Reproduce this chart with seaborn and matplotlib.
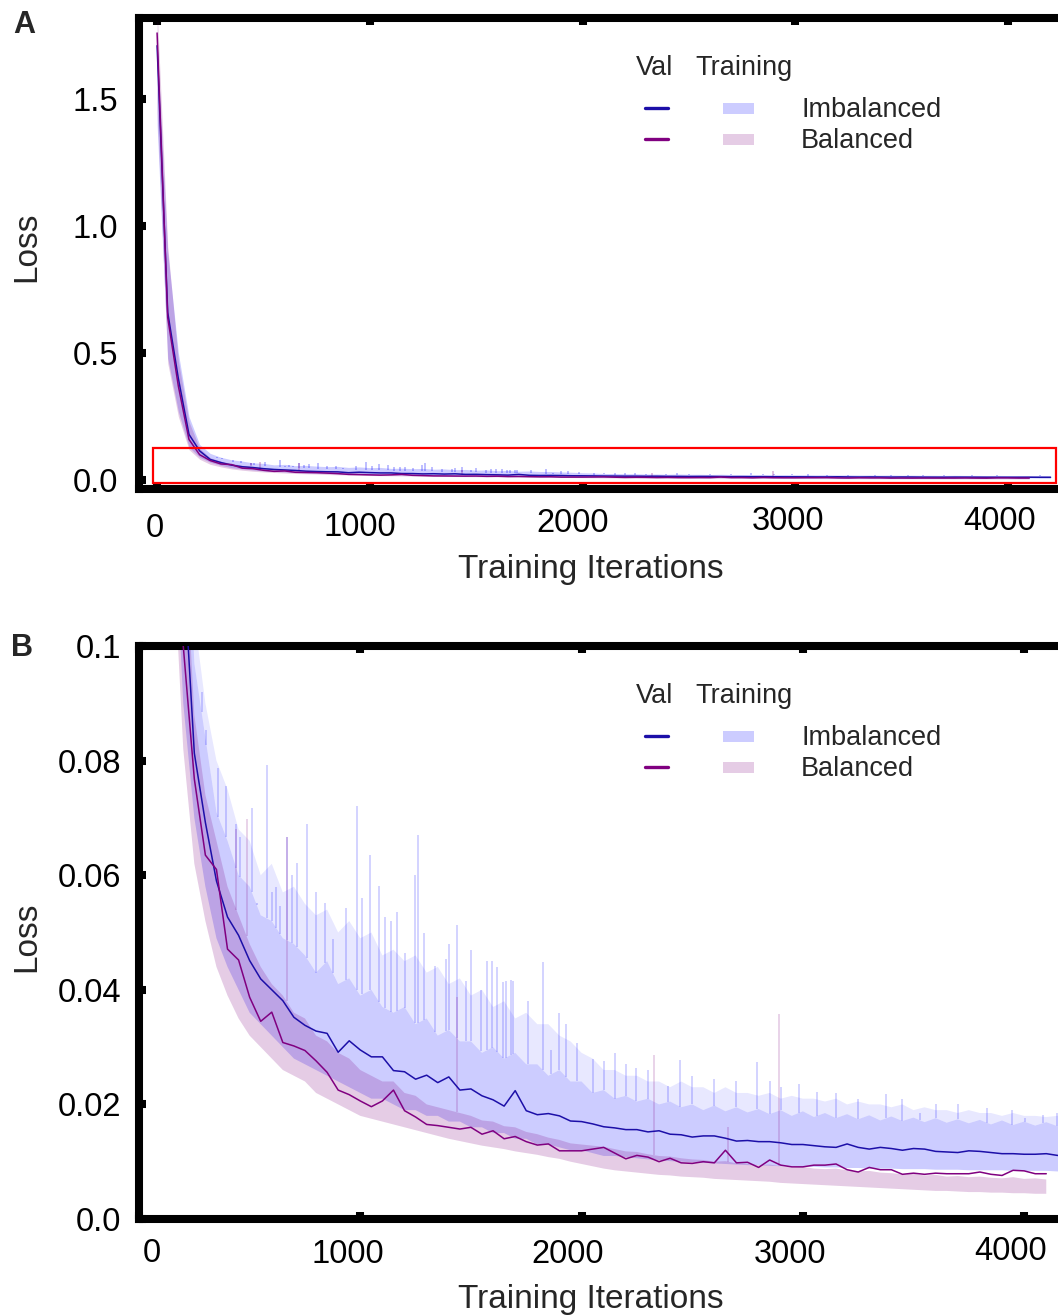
import numpy as np
import pandas as pd
import seaborn as sns
import matplotlib
matplotlib.use('Agg')
import matplotlib.pyplot as plt
import matplotlib.transforms as mtransforms
from matplotlib.lines import Line2D
from matplotlib.patches import Rectangle

sns.set_style('white')
plt.rcParams['font.family'] = ['Liberation Sans', 'DejaVu Sans']

#----------------------------------------------------------
# Validation loss, one value every 50 iterations
val_imb_iter = np.arange(0, 4201, 50)
val_imb = [1.71, 0.66, 0.40, 0.18, 0.115, 0.0813, 0.0692, 0.059, 0.0527, 0.0495,
           0.0451, 0.0419, 0.0400, 0.0381, 0.0352, 0.0338, 0.0328, 0.0324, 0.0291, 0.0311,
           0.0295, 0.0283, 0.0283, 0.0259, 0.0257, 0.0244, 0.0251, 0.0238, 0.0248, 0.0225,
           0.0227, 0.0215, 0.0208, 0.0197, 0.0224, 0.0189, 0.0182, 0.0184, 0.0180, 0.0171,
           0.0170, 0.0166, 0.0161, 0.0159, 0.0156, 0.0156, 0.0152, 0.0154, 0.0148, 0.0147,
           0.0143, 0.0145, 0.0145, 0.0141, 0.0136, 0.0137, 0.0135, 0.0135, 0.0133, 0.0130,
           0.0130, 0.0128, 0.0126, 0.0125, 0.0131, 0.0125, 0.0122, 0.0125, 0.0123, 0.0120,
           0.0123, 0.0122, 0.0118, 0.0117, 0.0116, 0.0119, 0.0118, 0.0116, 0.0114, 0.0114,
           0.0113, 0.0113, 0.0114, 0.0111, 0.0110]

val_bal_iter = np.arange(0, 4101, 50)
val_bal = [1.76, 0.64, 0.37, 0.16, 0.100, 0.0768, 0.0635, 0.0610, 0.0471, 0.0452,
           0.0387, 0.0345, 0.0361, 0.0308, 0.0302, 0.0294, 0.0276, 0.0256, 0.0225, 0.0217,
           0.0206, 0.0196, 0.0206, 0.0225, 0.0189, 0.0178, 0.0165, 0.0163, 0.0160, 0.0157,
           0.0160, 0.0148, 0.0154, 0.0140, 0.0144, 0.0135, 0.0129, 0.0131, 0.0119, 0.0119,
           0.0119, 0.0122, 0.0125, 0.0115, 0.0105, 0.0111, 0.0108, 0.0100, 0.0106, 0.0098,
           0.0097, 0.0100, 0.0098, 0.0120, 0.0098, 0.0099, 0.0090, 0.0103, 0.0094, 0.0091,
           0.0091, 0.0094, 0.0094, 0.0096, 0.0086, 0.0082, 0.0090, 0.0086, 0.0086, 0.0078,
           0.0080, 0.0078, 0.0080, 0.0079, 0.0079, 0.0079, 0.0082, 0.0078, 0.0076, 0.0085,
           0.0084, 0.0079, 0.0079]

# Training loss band (low / high of the dense band), every 50 iterations
tr_imb_iter = np.arange(0, 4201, 50)
tr_imb_low = [1.40, 0.48, 0.27, 0.13, 0.090, 0.070, 0.058, 0.049, 0.044, 0.040,
              0.036, 0.034, 0.032, 0.030, 0.028, 0.027, 0.026, 0.025, 0.024, 0.023,
              0.022, 0.021, 0.021, 0.020, 0.019, 0.019, 0.018, 0.018, 0.017, 0.017,
              0.016, 0.016, 0.015, 0.015, 0.014, 0.014, 0.013, 0.013, 0.0125, 0.012,
              0.012, 0.0115, 0.011, 0.011, 0.0108, 0.0106, 0.0104, 0.0103, 0.0101, 0.0100,
              0.0099, 0.0098, 0.0097, 0.0096, 0.0095, 0.0094, 0.0094, 0.0093, 0.0092, 0.0092,
              0.0091, 0.0091, 0.0090, 0.0090, 0.0089, 0.0089, 0.0088, 0.0088, 0.0088, 0.0087,
              0.0087, 0.0087, 0.0086, 0.0086, 0.0086, 0.0085, 0.0085, 0.0085, 0.0085, 0.0084,
              0.0084, 0.0084, 0.0084, 0.0083, 0.0083]
tr_imb_high = [1.73, 0.90, 0.50, 0.25, 0.140, 0.097, 0.084, 0.071, 0.066, 0.060,
               0.058, 0.053, 0.052, 0.049, 0.048, 0.046, 0.043, 0.045, 0.041, 0.042,
               0.039, 0.040, 0.037, 0.036, 0.037, 0.034, 0.035, 0.032, 0.033, 0.031,
               0.031, 0.029, 0.030, 0.028, 0.029, 0.027, 0.027, 0.025, 0.026, 0.024,
               0.024, 0.022, 0.0225, 0.021, 0.0215, 0.0205, 0.021, 0.020, 0.0205, 0.0195,
               0.020, 0.019, 0.0198, 0.0188, 0.0195, 0.0186, 0.0192, 0.0183, 0.019, 0.018,
               0.0188, 0.0178, 0.0185, 0.0176, 0.0183, 0.0174, 0.0181, 0.0172, 0.0179, 0.0171,
               0.0177, 0.0169, 0.0176, 0.0168, 0.0174, 0.0167, 0.0173, 0.0165, 0.0172, 0.0164,
               0.0170, 0.0163, 0.0169, 0.0162, 0.0168]
# Upper limit of the frequent, thin spikes above the dense band
tr_imb_fringe = [1.73, 0.90, 0.50, 0.25, 0.140, 0.105, 0.090, 0.080, 0.075, 0.068,
                 0.066, 0.060, 0.062, 0.057, 0.058, 0.055, 0.053, 0.054, 0.050, 0.052,
                 0.049, 0.050, 0.046, 0.047, 0.045, 0.046, 0.043, 0.044, 0.041, 0.042,
                 0.039, 0.040, 0.037, 0.038, 0.035, 0.036, 0.034, 0.034, 0.032, 0.031,
                 0.029, 0.028, 0.026, 0.026, 0.025, 0.025, 0.024, 0.024, 0.023, 0.024,
                 0.023, 0.023, 0.022, 0.023, 0.022, 0.022, 0.0215, 0.022, 0.021, 0.0215,
                 0.021, 0.021, 0.0205, 0.021, 0.020, 0.0205, 0.020, 0.020, 0.0195, 0.020,
                 0.019, 0.0195, 0.019, 0.019, 0.0185, 0.019, 0.0185, 0.0185, 0.018, 0.0185,
                 0.018, 0.018, 0.0178, 0.018, 0.0178]

tr_bal_iter = np.arange(0, 4101, 50)
tr_bal_low = [1.45, 0.46, 0.25, 0.12, 0.082, 0.062, 0.052, 0.044, 0.039, 0.035,
              0.032, 0.030, 0.028, 0.026, 0.025, 0.024, 0.022, 0.021, 0.020, 0.019,
              0.018, 0.0175, 0.017, 0.0165, 0.016, 0.0155, 0.015, 0.0145, 0.014, 0.0136,
              0.0132, 0.0128, 0.0125, 0.0122, 0.0118, 0.0115, 0.0112, 0.0108, 0.0105, 0.0100,
              0.0096, 0.0092, 0.0088, 0.0085, 0.0083, 0.0081, 0.0079, 0.0077, 0.0076, 0.0074,
              0.0073, 0.0072, 0.0070, 0.0069, 0.0068, 0.0067, 0.0066, 0.0065, 0.0063, 0.0062,
              0.0061, 0.0060, 0.0059, 0.0058, 0.0057, 0.0056, 0.0055, 0.0054, 0.0053, 0.0052,
              0.0051, 0.0050, 0.0049, 0.0049, 0.0048, 0.0047, 0.0047, 0.0046, 0.0046, 0.0045,
              0.0045, 0.0044, 0.0044]
tr_bal_high = [1.86, 0.92, 0.47, 0.23, 0.125, 0.088, 0.074, 0.066, 0.058, 0.053,
               0.048, 0.044, 0.041, 0.039, 0.036, 0.035, 0.032, 0.031, 0.029, 0.028,
               0.026, 0.025, 0.024, 0.024, 0.022, 0.0215, 0.020, 0.0195, 0.019, 0.0185,
               0.018, 0.0172, 0.0170, 0.0162, 0.0160, 0.0152, 0.0148, 0.0142, 0.0138, 0.0132,
               0.0130, 0.0128, 0.0126, 0.0122, 0.0118, 0.0117, 0.0113, 0.0110, 0.0109, 0.0106,
               0.0104, 0.0103, 0.0100, 0.0101, 0.0097, 0.0096, 0.0094, 0.0095, 0.0092, 0.0090,
               0.0091, 0.0088, 0.0087, 0.0088, 0.0085, 0.0083, 0.0084, 0.0081, 0.0080, 0.0078,
               0.0079, 0.0076, 0.0077, 0.0074, 0.0075, 0.0073, 0.0074, 0.0072, 0.0071, 0.0073,
               0.0070, 0.0071, 0.0069]

# Isolated training spikes (iteration, loss)
spike_imb_iter = [283, 305, 358, 393, 440, 457, 509, 532, 577, 599, 620, 637, 667, 690, 712,
                  758, 800, 841, 875, 935, 984, 1010, 1044, 1086, 1112, 1140, 1164, 1202,
                  1247, 1259, 1290, 1338, 1387, 1400, 1435, 1478, 1500, 1544, 1571, 1594,
                  1620, 1647, 1659, 1683, 1691, 1757, 1827, 1861, 1900, 1930, 1981, 2053,
                  2101, 2151, 2200, 2248, 2300, 2391, 2444, 2500, 2600, 2700, 2793, 2850,
                  2900, 2983, 3062, 3150, 3250, 3375, 3450, 3529, 3600, 3700, 3833, 3947,
                  4003, 4083, 4150]
spike_imb = [0.092, 0.0854, 0.0787, 0.0756, 0.069, 0.0667, 0.0717, 0.0552, 0.0792, 0.0571,
             0.058, 0.0546, 0.0667, 0.060, 0.0622, 0.0689, 0.057, 0.0552, 0.0489, 0.0543,
             0.0721, 0.056, 0.0635, 0.0581, 0.0527, 0.052, 0.0535, 0.0464, 0.060, 0.067,
             0.050, 0.0441, 0.0454, 0.048, 0.0513, 0.0416, 0.047, 0.040, 0.0451, 0.0451,
             0.044, 0.0413, 0.0416, 0.0417, 0.0416, 0.038, 0.0448, 0.0295, 0.036, 0.034,
             0.0308, 0.0279, 0.0275, 0.0289, 0.027, 0.0264, 0.026, 0.0232, 0.0277, 0.025,
             0.0245, 0.024, 0.0274, 0.024, 0.023, 0.0235, 0.0221, 0.022, 0.021, 0.0219,
             0.021, 0.0185, 0.020, 0.020, 0.0193, 0.019, 0.0177, 0.0181, 0.0185]
spike_bal_iter = [440, 486, 667, 1435, 2328, 2660, 2893]
spike_bal = [0.068, 0.0698, 0.0667, 0.0387, 0.0287, 0.0160, 0.0358]

col_val = {'Imbalanced': '#1c0fa8', 'Balanced': '#800080'}
col_train = {'Imbalanced': 'blue', 'Balanced': 'purple'}

#----------------------------------------------------------
W, H = 1058, 1315
fig = plt.figure(figsize=(W / 100, H / 100), dpi=100)


def fx(x):
    return x / W


def fy(y):
    return 1 - y / H


def px_axes(left, top, right, bottom):
    return fig.add_axes([fx(left), fy(bottom), (right - left) / W, (bottom - top) / H])


val_df = pd.concat([
    pd.DataFrame({'Iteration': val_imb_iter, 'Loss': val_imb, 'Set': 'Imbalanced'}),
    pd.DataFrame({'Iteration': val_bal_iter, 'Loss': val_bal, 'Set': 'Balanced'})])


def draw_panel(ax, fringe_alpha, spike_alpha):
    # Training bands: light fringe of spikes, then the dense core
    ax.fill_between(tr_imb_iter, tr_imb_high, tr_imb_fringe, color=col_train['Imbalanced'],
                    alpha=fringe_alpha, lw=0)
    ax.fill_between(tr_imb_iter, tr_imb_low, tr_imb_high, color=col_train['Imbalanced'],
                    alpha=0.2, lw=0)
    ax.fill_between(tr_bal_iter, tr_bal_low, tr_bal_high, color=col_train['Balanced'],
                    alpha=0.2, lw=0)
    # Spikes rising out of the band
    base_imb = np.interp(spike_imb_iter, tr_imb_iter, tr_imb_high)
    ax.vlines(spike_imb_iter, base_imb, spike_imb, color=col_train['Imbalanced'],
              alpha=spike_alpha, lw=1.2)
    base_bal = np.interp(spike_bal_iter, tr_bal_iter, tr_bal_high)
    ax.vlines(spike_bal_iter, base_bal, spike_bal, color=col_train['Balanced'],
              alpha=spike_alpha, lw=1.2)
    # Validation curves
    sns.lineplot(data=val_df, x='Iteration', y='Loss', hue='Set',
                 hue_order=['Imbalanced', 'Balanced'], palette=col_val,
                 linewidth=1.1, legend=False, ax=ax, zorder=5)

    ax.set_xlabel('')
    ax.set_ylabel('')
    for side in ['left', 'top', 'bottom']:
        ax.spines[side].set_linewidth(5.8)
        ax.spines[side].set_color('black')
        ax.spines[side].set_capstyle('projecting')
    ax.spines['right'].set_visible(False)
    ax.tick_params(direction='in', length=5, width=5.8, color='black',
                   top=True, bottom=True, left=True, right=False,
                   labelsize=23.5, labelcolor='black')
    ax.tick_params(axis='x', pad=0)
    ax.set_xticks([0, 1000, 2000, 3000, 4000])
    ax.set_xticklabels(['0', '1000', '2000', '3000', '4000'])


def shift_xticklabels(ax, offsets):
    for lab, (dx, dy) in zip(ax.get_xticklabels(), offsets):
        lab.set_transform(lab.get_transform() +
                          mtransforms.ScaledTranslation(dx / 100, -dy / 100, fig.dpi_scale_trans))


def draw_legend(y0):
    fig.text(fx(655), fy(y0 + 68), 'Val', fontsize=19.5, ha='center', va='center')
    fig.text(fx(744), fy(y0 + 68), 'Training', fontsize=19.5, ha='center', va='center')
    for i, name in enumerate(['Imbalanced', 'Balanced']):
        yy = y0 + 108 + 31 * i
        fig.add_artist(Line2D([fx(645), fx(668)], [fy(yy), fy(yy)], color=col_val[name],
                              lw=2.4, transform=fig.transFigure))
        fig.add_artist(Rectangle((fx(723), fy(yy + 6)), 31 / W, 11 / H, transform=fig.transFigure,
                                 facecolor=col_train[name], alpha=0.2, lw=0))
        fig.text(fx(801), fy(yy + 2), name, fontsize=19.5, ha='left', va='center')


# ----- Panel A -----
axA = px_axes(139, 18, 1058, 489)
draw_panel(axA, fringe_alpha=0.2, spike_alpha=0.3)
axA.set_xlim(-85, 4235)
axA.set_ylim(-0.035, 1.819)
axA.set_yticks([0.0, 0.5, 1.0, 1.5])
axA.set_yticklabels(['0.0', '0.5', '1.0', '1.5'])
axA.tick_params(axis='y', pad=15)
axA.add_patch(Rectangle((-19, -0.012), 4245, 0.138, fill=False, edgecolor='red',
                        lw=1.6, zorder=6))
shift_xticklabels(axA, [(-2, 24), (-10, 23), (-10, 19), (-7, 17), (-8, 17)])

# ----- Panel B -----
axB = px_axes(139, 646, 1058, 1219)
draw_panel(axB, fringe_alpha=0.09, spike_alpha=0.2)
axB.set_xlim(0, 4153)
axB.set_ylim(0.0, 0.1)
axB.set_yticks([0.0, 0.02, 0.04, 0.06, 0.08, 0.1])
axB.set_yticklabels(['0.0', '0.02', '0.04', '0.06', '0.08', '0.1'])
axB.tick_params(axis='y', pad=13)
shift_xticklabels(axB, [(13, 19), (-12, 20), (-14, 20), (-13, 20), (-14, 17)])

# Axis labels, panel letters and legends
for y_loss, y_xl in [(247, 578), (937, 1308)]:
    fig.text(fx(27), fy(y_loss), 'Loss', fontsize=24, rotation=90, ha='center', va='center')
    fig.text(fx(591), fy(y_xl), 'Training Iterations', fontsize=24, ha='center', va='baseline')

fig.text(fx(24), fy(25), 'A', fontsize=22, fontweight='bold', ha='center', va='center')
fig.text(fx(22), fy(648), 'B', fontsize=22, fontweight='bold', ha='center', va='center')

draw_legend(0)
draw_legend(628)

fig.savefig('out.png', dpi=100)
